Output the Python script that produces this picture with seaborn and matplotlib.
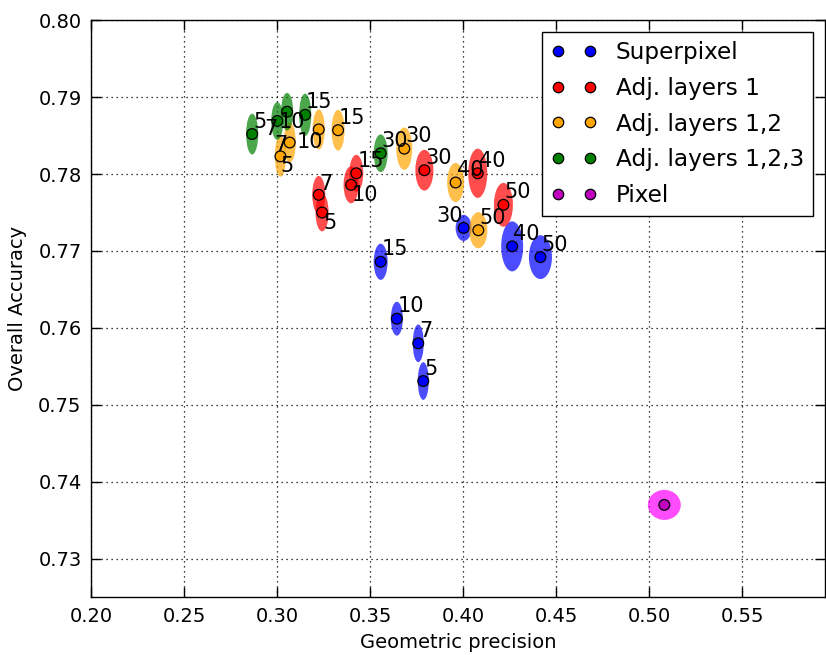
import numpy as np
import pandas as pd
import matplotlib
matplotlib.use("Agg")
import matplotlib.pyplot as plt
from matplotlib.patches import Ellipse
from matplotlib.lines import Line2D
import seaborn as sns

# ---------------- data ----------------
series_names = ["Superpixel", "Adj. layers 1", "Adj. layers 1,2", "Adj. layers 1,2,3", "Pixel"]

sp_labels = ["5", "7", "10", "15", "30", "40", "50"]
sp_x = [0.3785, 0.3758, 0.3643, 0.3556, 0.4002, 0.4263, 0.4415]
sp_y = [0.7531, 0.7580, 0.7612, 0.7686, 0.7730, 0.7706, 0.7692]
sp_w = [0.0059, 0.0059, 0.0065, 0.0075, 0.0086, 0.0118, 0.0124]
sp_h = [0.0049, 0.0049, 0.0044, 0.0047, 0.0034, 0.0065, 0.0057]

a1_labels = ["5", "7", "10", "15", "30", "40", "50"]
a1_x = [0.3241, 0.3223, 0.3397, 0.3425, 0.3791, 0.4078, 0.4216]
a1_y = [0.7750, 0.7773, 0.7786, 0.7801, 0.7805, 0.7801, 0.7760]
a1_w = [0.0070, 0.0070, 0.0081, 0.0075, 0.0097, 0.0102, 0.0102]
a1_h = [0.0049, 0.0049, 0.0048, 0.0048, 0.0053, 0.0064, 0.0057]

a12_labels = ["5", "7", "10", "15", "30", "40", "50"]
a12_x = [0.3017, 0.3067, 0.3223, 0.3327, 0.3683, 0.3959, 0.4081]
a12_y = [0.7823, 0.7841, 0.7858, 0.7857, 0.7833, 0.7789, 0.7727]
a12_w = [0.0060, 0.0065, 0.0065, 0.0070, 0.0086, 0.0091, 0.0097]
a12_h = [0.0053, 0.0052, 0.0052, 0.0053, 0.0055, 0.0051, 0.0047]

a123_labels = ["5", "7", "10", "15", "30"]
a123_x = [0.2865, 0.3000, 0.3053, 0.3150, 0.3556]
a123_y = [0.7852, 0.7869, 0.7881, 0.7877, 0.7827]
a123_w = [0.0065, 0.0065, 0.0065, 0.0065, 0.0075]
a123_h = [0.0053, 0.0049, 0.0049, 0.0055, 0.0049]

px_labels = [""]
px_x = [0.5081]
px_y = [0.7370]
px_w = [0.0177]
px_h = [0.0039]

# ---------------- styles ----------------
marker_colors = {"Superpixel": "b", "Adj. layers 1": "r", "Adj. layers 1,2": "orange",
                 "Adj. layers 1,2,3": "g", "Pixel": "m"}
ellipse_colors = {"Superpixel": "b", "Adj. layers 1": "r", "Adj. layers 1,2": "orange",
                  "Adj. layers 1,2,3": "g", "Pixel": "magenta"}
# label offsets in pixels (default is (1, 6.5))
label_offsets = {
    ("Adj. layers 1,2,3", "7"): (-13, -14),
    ("Adj. layers 1,2,3", "10"): (-8, -16.3),
    ("Adj. layers 1", "5"): (1, -16),
    ("Adj. layers 1", "7"): (1, 5),
    ("Adj. layers 1", "10"): (1, -16.5),
    ("Adj. layers 1,2", "5"): (0, -16),
    ("Adj. layers 1,2", "7"): (-15.5, -8),
    ("Adj. layers 1,2", "10"): (-22.5, -18.2),
    ("Superpixel", "30"): (-27.5, 6),
}

groups = [
    ("Superpixel", sp_labels, sp_x, sp_y, sp_w, sp_h),
    ("Adj. layers 1", a1_labels, a1_x, a1_y, a1_w, a1_h),
    ("Adj. layers 1,2", a12_labels, a12_x, a12_y, a12_w, a12_h),
    ("Adj. layers 1,2,3", a123_labels, a123_x, a123_y, a123_w, a123_h),
    ("Pixel", px_labels, px_x, px_y, px_w, px_h),
]

rows = []
for name, labs, xs, ys, ws, hs in groups:
    for l, x, y, w, h in zip(labs, xs, ys, ws, hs):
        rows.append(dict(group=name, label=l, x=x, y=y, w=w, h=h))
df = pd.DataFrame(rows)

# ---------------- figure ----------------
plt.rcParams["font.family"] = ["DejaVu Sans"]
plt.rcParams["xtick.direction"] = "in"
plt.rcParams["ytick.direction"] = "in"

fig = plt.figure(figsize=(8.26, 6.55), dpi=100)
ax = fig.add_axes([0.1105, 0.0882, 0.9988 - 0.1105, 0.9692 - 0.0882])

for name, labs, xs, ys, ws, hs in groups:
    for x, y, w, h in zip(xs, ys, ws, hs):
        ax.add_patch(Ellipse((x, y), w, h, facecolor=ellipse_colors[name],
                             edgecolor="none", alpha=0.7, zorder=2))

sns.scatterplot(data=df, x="x", y="y", hue="group", palette=marker_colors,
                hue_order=series_names, s=60, edgecolor="black", linewidth=0.9,
                legend=False, zorder=3, ax=ax)

for _, r in df.iterrows():
    if r["label"] == "":
        continue
    off = label_offsets.get((r["group"], r["label"]), (1, 6.5))
    ax.annotate(r["label"], (r["x"], r["y"]), xytext=off, textcoords="offset pixels",
                ha="left", va="baseline", fontsize=15, color="black", zorder=4)

ax.set_xlim(0.20, 0.5945)
ax.set_ylim(0.725, 0.80)
ax.set_xticks(np.arange(0.20, 0.551, 0.05))
ax.set_yticks(np.arange(0.73, 0.801, 0.01))
ax.xaxis.set_major_formatter(matplotlib.ticker.FormatStrFormatter("%.2f"))
ax.yaxis.set_major_formatter(matplotlib.ticker.FormatStrFormatter("%.2f"))
ax.tick_params(axis="both", which="major", direction="in", length=7, width=1,
               labelsize=14, pad=7, top=True, right=True, colors="black")
ax.set_axisbelow(True)
ax.grid(True, color="black", linestyle=(0, (1, 3)), linewidth=0.9)
for sp in ax.spines.values():
    sp.set_color("black")
    sp.set_linewidth(1.0)

ax.set_xlabel("Geometric precision", fontsize=14, labelpad=5)
ax.set_ylabel("Overall Accuracy", fontsize=14, labelpad=8)

handles = [Line2D([0], [0], marker="o", linestyle="none", markerfacecolor=marker_colors[n],
                  markeredgecolor="black", markeredgewidth=0.9, markersize=7.5)
           for n in series_names]
leg = ax.legend(handles, series_names, loc="upper right", numpoints=2, fontsize=16.7,
                frameon=True, fancybox=False, framealpha=1, edgecolor="black",
                borderpad=0.4, handletextpad=0.8, labelspacing=0.55, handlelength=2.0,
                borderaxespad=0.5)
leg.get_frame().set_linewidth(1.0)

fig.savefig("out.png", dpi=100)
